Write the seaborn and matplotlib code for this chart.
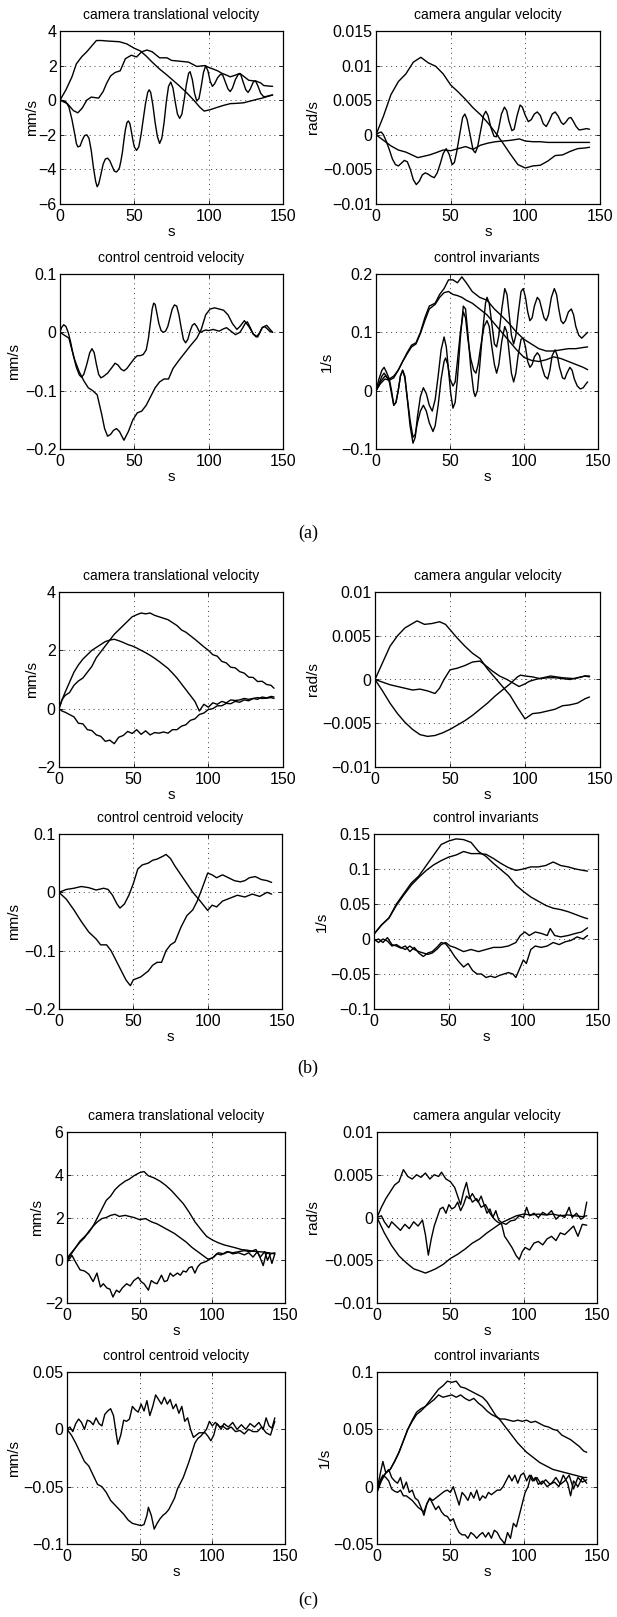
import numpy as np
import matplotlib
matplotlib.use("Agg")
import matplotlib.pyplot as plt
import seaborn as sns
from matplotlib.ticker import FuncFormatter

# ---------------------------------------------------------------- data
# Curves with dense oscillations are stored as (time, value) pairs,
# the smoother ones as separate time / value lists.

# (a) camera translational velocity [mm/s]
A1_TA = [0, 4, 8, 11, 14.5, 18, 21, 24.5, 28, 32, 36, 40, 45, 50, 54, 58, 62, 67, 72, 76,
         80, 85, 90, 94, 97, 101, 105.5, 110, 114.5, 119, 123.5, 128, 132.5, 136, 139, 143]
A1_VA = [0, 0.6, 1.34, 2.1, 2.5, 2.8, 3.1, 3.45, 3.45, 3.42, 3.4, 3.38, 3.25, 3.0, 2.85, 2.55, 2.2, 1.8, 1.45, 1.15,
         0.85, 0.45, 0.0, -0.4, -0.63, -0.55, -0.42, -0.3, -0.2, -0.18, -0.15, -0.05, 0.05, 0.12, 0.2, 0.3]
A1_TB = [0, 5, 9, 12, 15, 18, 21, 26, 29, 31.5, 34, 37, 40.5, 44, 48, 51.5, 55, 58.5, 62, 67,
         72, 75, 81, 86.5, 92, 97, 100, 103, 106, 109, 112, 114.5, 118, 121, 124, 127, 130, 132, 135, 137,
         140, 143]
A1_VB = [0, -0.2, -0.6, -0.73, -0.45, 0.0, 0.18, 0.12, 0.5, 1.0, 1.4, 1.6, 1.7, 2.4, 2.6, 2.5, 2.8, 2.9, 2.8, 2.45,
         2.45, 2.3, 2.25, 2.2, 1.95, 2.0, 1.9, 1.8, 1.7, 1.55, 1.45, 1.35, 1.45, 1.55, 1.35, 1.15, 1.12, 1.1, 1.0, 0.85,
         0.82, 0.8]
A1_C = [(0, 0), (2, -0.02), (4, -0.1), (6, -0.4), (8, -1.1), (10, -2.0), (11, -2.5), (12, -2.7), (13.5, -2.65),
        (15, -2.3), (16.5, -2.05), (18, -2.0), (19.5, -2.2), (21, -2.9), (22.5, -3.9), (24, -4.7), (25, -5.0),
        (26, -4.85), (27.5, -4.3), (29, -3.7), (30.5, -3.4), (32, -3.35), (33.5, -3.5), (35, -3.8), (36.5, -4.1),
        (38, -4.15), (39, -4.05), (40, -3.9), (41, -3.5), (42, -3.0), (43, -2.3), (44, -1.7), (45, -1.3),
        (46, -1.2), (47, -1.35), (48, -1.8), (49, -2.3), (50, -2.7), (51.5, -2.9), (53, -2.7), (54.5, -2.0),
        (56, -1.1), (57.5, -0.2), (59, 0.45), (60, 0.6), (61, 0.45), (62.5, -0.3), (64, -1.3), (65.5, -2.1),
        (67, -2.5), (68.5, -2.2), (70, -1.3), (71.5, -0.1), (73, 0.8), (74.5, 1.05), (76, 0.7), (77.5, -0.1),
        (79, -0.8), (80.5, -1.05), (82, -0.8), (83.5, 0.0), (85, 0.9), (86.5, 1.55), (87.5, 1.65), (89, 1.2),
        (90.5, 0.4), (92, -0.05), (93.5, 0.1), (95, 0.8), (96.5, 1.6), (98, 2.0), (99.5, 1.7), (101, 1.1),
        (102.5, 0.8), (104, 0.95), (106, 1.3), (108, 1.5), (109.5, 1.45), (111, 1.1), (113, 0.65), (114.5, 0.5),
        (116, 0.7), (118, 1.2), (120, 1.5), (121.5, 1.5), (123, 1.1), (125, 0.6), (126.5, 0.45), (128, 0.65),
        (130, 1.05), (131.5, 1.12), (133, 0.85), (135, 0.4), (137, 0.2), (139, 0.22), (141, 0.27), (143, 0.3)]

# (a) camera angular velocity [rad/s]
A2_TA = [0, 5, 10, 15, 20, 25, 30, 35, 40, 45, 50, 55, 60, 65, 70, 75, 80, 85, 90, 95,
         100, 105, 110, 115, 120, 125, 130, 135, 140, 143]
A2_VA = [0, 0.0027, 0.0058, 0.0077, 0.0088, 0.0105, 0.0112, 0.0104, 0.0099, 0.0088, 0.0072, 0.0062, 0.0051, 0.0039,
         0.0029, 0.0017, 0.0003, -0.0012, -0.0028, -0.0043, -0.0048, -0.0045, -0.0044, -0.0038, -0.003, -0.0029,
         -0.0024, -0.002, -0.0019, -0.0018]
A2_TB = [0, 5, 10, 15, 20, 25, 28, 32, 36, 40, 45, 50, 55, 60, 65, 70, 75, 80, 85, 90,
         96, 100, 105, 110, 115, 120, 130, 143]
A2_VB = [0, -0.0008, -0.0016, -0.0022, -0.0025, -0.003, -0.0033, -0.0031, -0.0029, -0.0026, -0.0022, -0.0023,
         -0.002, -0.0017, -0.0021, -0.0015, -0.0012, -0.001, -0.0009, -0.0008, -0.0006, -0.0009, -0.001, -0.001,
         -0.0011, -0.0011, -0.0011, -0.0011]
A2_C = [(0, 0), (2, 0.0003), (3.5, 0.0004), (5, 0.0), (7, -0.001), (9, -0.0022), (11, -0.0035), (13, -0.0043),
        (15, -0.0045), (17, -0.0041), (19, -0.0037), (21, -0.0039), (23, -0.005), (25, -0.0065), (27, -0.0072),
        (29, -0.0067), (31, -0.0058), (33, -0.0055), (35, -0.0057), (37, -0.006), (39, -0.0062), (41, -0.0055),
        (43, -0.0042), (45, -0.0027), (47, -0.002), (49, -0.0028), (51, -0.0043), (52.5, -0.004), (54, -0.0025),
        (56, 0.0), (58, 0.0025), (59.5, 0.003), (61, 0.0022), (63, 0.0), (65, -0.0022), (66.5, -0.0026),
        (68, -0.0018), (70, 0.0005), (72, 0.0028), (73.5, 0.0034), (75, 0.0028), (77, 0.001), (79, -0.0002),
        (80.5, -0.0003), (82, 0.0008), (84, 0.003), (86, 0.004), (87.5, 0.0035), (89, 0.002), (91, 0.0006),
        (92.5, 0.0008), (94.5, 0.0028), (96.5, 0.0043), (98, 0.004), (100, 0.0028), (102, 0.0019), (104, 0.0022),
        (106, 0.003), (108, 0.0033), (110, 0.0028), (112, 0.0016), (114, 0.0012), (116, 0.002), (118, 0.003),
        (120, 0.0033), (122, 0.0027), (124, 0.0018), (125.5, 0.0015), (127, 0.0018), (129, 0.0024),
        (130.5, 0.0025), (132, 0.002), (134, 0.0012), (136, 0.0007), (139, 0.0008), (141, 0.0009), (143, 0.0008)]

# (a) control centroid velocity [mm/s]
A3_A = [(0, 0), (1, 0.008), (2.5, 0.013), (4, 0.01), (5.5, 0.0), (7, -0.015), (9, -0.04), (11, -0.06),
        (13, -0.073), (14.5, -0.077), (16, -0.072), (18, -0.055), (20, -0.035), (21.5, -0.028), (23, -0.035),
        (24.5, -0.055), (26, -0.072), (27.5, -0.078), (29, -0.076), (32, -0.07), (35, -0.06), (37, -0.053),
        (39, -0.056), (41, -0.063), (43, -0.066), (45, -0.062), (47, -0.055), (50, -0.045), (52, -0.04),
        (54, -0.04), (56, -0.038), (58, -0.03), (59.5, -0.01), (61, 0.02), (62, 0.04), (63, 0.05), (64, 0.048),
        (65, 0.035), (66.5, 0.015), (68, 0.003), (69.5, 0.0), (71, 0.002), (72.5, 0.01), (74, 0.025),
        (75.5, 0.04), (77, 0.047), (78.5, 0.045), (80, 0.03), (81.5, 0.008), (83, -0.012), (84.5, -0.018),
        (86, -0.012), (87.5, 0.002), (89, 0.012), (90.5, 0.015), (92, 0.01), (93.5, 0.002), (95, 0.0),
        (96, 0.002), (98, 0.004), (100, 0.003), (103, 0.005), (107, 0.002), (110, 0.006), (112, 0.008),
        (115, 0.002), (118, -0.004), (121, 0.0), (123, 0.008), (124.5, 0.015), (126, 0.018), (128, 0.008),
        (130, -0.003), (132, -0.008), (134, -0.002), (136, 0.008), (137.5, 0.01), (139, 0.007), (141, 0.002),
        (143, 0.0)]
A3_TB = [0, 3, 6, 8, 10, 13, 16, 19, 22, 25, 28, 30, 32, 34, 36, 38, 40, 43, 46, 49,
         52, 55, 58, 61, 64, 67, 70, 73, 76, 80, 84, 88, 92, 95, 98, 101, 104, 107, 110, 113,
         116, 119, 121, 124, 127, 130, 133, 136, 139, 143]
A3_VB = [0, -0.005, -0.01, -0.03, -0.048, -0.068, -0.083, -0.095, -0.1, -0.107,
         -0.14, -0.165, -0.178, -0.175, -0.168, -0.165, -0.17, -0.185, -0.17, -0.15,
         -0.138, -0.135, -0.125, -0.11, -0.095, -0.085, -0.08, -0.08, -0.062, -0.048,
         -0.035, -0.022, -0.01, 0.005, 0.03, 0.04, 0.042, 0.04, 0.038, 0.03,
         0.015, 0.005, 0.01, 0.02, 0.01, -0.003, -0.008, 0.008, 0.012, 0.0]

# (a) control invariants [1/s]
A4_TPQ = [0, 3, 6, 9, 12, 15, 18, 21, 24, 27, 30, 33, 36, 40, 43, 46, 49, 52, 55, 58,
          61, 65, 70, 75, 80, 85, 90, 95, 100, 105, 110, 115, 120, 125, 130, 135, 140, 143]
A4_VP = [0, 0.015, 0.025, 0.02, 0.025, 0.035, 0.05, 0.065, 0.078, 0.082, 0.1, 0.125, 0.145, 0.15, 0.165, 0.175,
         0.19, 0.19, 0.185, 0.195, 0.185, 0.17, 0.16, 0.155, 0.14, 0.128, 0.115, 0.1, 0.088, 0.08, 0.072, 0.068,
         0.068, 0.07, 0.072, 0.072, 0.074, 0.075]
A4_VQ = [0, 0.012, 0.02, 0.018, 0.022, 0.035, 0.05, 0.063, 0.075, 0.08, 0.098, 0.12, 0.14, 0.148, 0.16, 0.168,
         0.17, 0.165, 0.163, 0.16, 0.155, 0.15, 0.14, 0.13, 0.115, 0.1, 0.085, 0.07, 0.057, 0.052, 0.05, 0.053,
         0.058, 0.055, 0.05, 0.045, 0.04, 0.036]
A4_R = [(0, 0), (2, 0.02), (4, 0.035), (5.5, 0.04), (7, 0.032), (9, 0.02), (10.5, 0.0), (12, -0.025),
        (13.5, -0.02), (15, 0.0), (16.5, 0.025), (18, 0.035), (19.5, 0.025), (21, -0.01), (23, -0.06),
        (25, -0.09), (26.5, -0.08), (28, -0.045), (30, -0.01), (32, 0.005), (34, -0.005), (36, -0.025),
        (38, -0.035), (40, -0.015), (42, 0.025), (44, 0.07), (46, 0.092), (47.5, 0.075), (49, 0.035),
        (50.5, -0.005), (52, -0.03), (53.5, -0.02), (55, 0.02), (57, 0.09), (59, 0.145), (60.5, 0.14),
        (62, 0.1), (64, 0.04), (66, -0.002), (67, -0.01), (68.5, 0.0), (70, 0.04), (72, 0.1), (74, 0.15),
        (75, 0.16), (76.5, 0.15), (78, 0.12), (80, 0.08), (81.5, 0.075), (83, 0.095), (85, 0.14), (87, 0.175),
        (88.5, 0.165), (90, 0.13), (91.5, 0.095), (93, 0.08), (94.5, 0.095), (96, 0.13), (98, 0.17),
        (99.5, 0.175), (101, 0.16), (102.5, 0.135), (104, 0.12), (105.5, 0.125), (107, 0.145), (109, 0.16),
        (110.5, 0.155), (112, 0.14), (113.5, 0.125), (115, 0.12), (116.5, 0.13), (118.5, 0.16), (120.5, 0.175),
        (122, 0.165), (123.5, 0.14), (125, 0.12), (126.5, 0.115), (128, 0.12), (130, 0.135), (132, 0.14),
        (133.5, 0.13), (135, 0.11), (137, 0.095), (139, 0.09), (141, 0.095), (143, 0.1)]
A4_S = [(0, 0), (2, 0.012), (4, 0.025), (5.5, 0.03), (7, 0.025), (9, 0.015), (10.5, -0.005), (12, -0.025),
        (13.5, -0.02), (15, 0.0), (16.5, 0.025), (18, 0.035), (19.5, 0.022), (21, -0.01), (23, -0.05),
        (25, -0.08), (26.5, -0.075), (28, -0.055), (30, -0.035), (32, -0.025), (34, -0.035), (36, -0.055),
        (38.5, -0.07), (40, -0.06), (42, -0.025), (44, 0.02), (46, 0.05), (47, 0.056), (48.5, 0.045),
        (50, 0.02), (52, 0.008), (53.5, 0.015), (55, 0.05), (57, 0.1), (59, 0.135), (60.5, 0.125), (62, 0.09),
        (64, 0.055), (66, 0.035), (67.5, 0.03), (69, 0.045), (71, 0.08), (73, 0.11), (75, 0.12), (76.5, 0.11),
        (78, 0.08), (80, 0.045), (81.5, 0.03), (83, 0.045), (85, 0.085), (87, 0.11), (88.5, 0.1), (90, 0.065),
        (91.5, 0.03), (93, 0.015), (94.5, 0.03), (96, 0.06), (98, 0.088), (99.5, 0.09), (101, 0.075),
        (102.5, 0.05), (104, 0.04), (105.5, 0.045), (107, 0.058), (109, 0.065), (110.5, 0.06), (112, 0.042),
        (114, 0.025), (116, 0.02), (117.5, 0.035), (119, 0.06), (121, 0.07), (122.5, 0.06), (124, 0.04),
        (126, 0.022), (127.5, 0.02), (129, 0.03), (131, 0.04), (132.5, 0.035), (134, 0.02), (136, 0.008),
        (138, 0.003), (140, 0.005), (142, 0.012), (143, 0.015)]

# (b) camera translational velocity [mm/s]
B1_T = [0, 2, 4, 7, 10, 13, 16, 19, 22, 25, 28, 31, 34, 37, 40, 43, 46, 49, 52, 55,
        58, 61, 64, 67, 70, 73, 76, 79, 82, 85, 88, 91, 94, 97, 100, 103, 106, 109, 112, 115,
        118, 121, 124, 127, 130, 133, 136, 139, 142, 144]
B1_VA = [0, 0.3, 0.45, 0.55, 0.8, 0.95, 1.05, 1.25, 1.45, 1.75, 1.95, 2.15, 2.35, 2.55, 2.7, 2.85, 3.0, 3.15, 3.22,
         3.28, 3.25, 3.28, 3.2, 3.15, 3.1, 3.05, 2.95, 2.85, 2.7, 2.62, 2.5, 2.38, 2.25, 2.12, 2.0, 1.85, 1.8,
         1.62, 1.57, 1.42, 1.4, 1.27, 1.22, 1.08, 1.07, 0.93, 0.94, 0.83, 0.8, 0.7]
B1_VB = [0, 0.3, 0.55, 0.9, 1.25, 1.5, 1.7, 1.85, 2.0, 2.1, 2.2, 2.3, 2.35, 2.38, 2.33, 2.27, 2.2, 2.15, 2.08, 2.0,
         1.92, 1.83, 1.73, 1.62, 1.5, 1.38, 1.22, 1.05, 0.85, 0.65, 0.45, 0.25, -0.08, 0.15, 0.05, 0.2, 0.15, 0.25,
         0.2, 0.3, 0.28, 0.3, 0.35, 0.32, 0.35, 0.38, 0.35, 0.36, 0.38, 0.35]
B1_VC = [0, -0.08, -0.12, -0.2, -0.28, -0.5, -0.52, -0.72, -0.75, -0.9, -0.95, -1.12, -1.08, -1.2, -0.98, -0.92,
         -0.78, -0.85, -0.72, -0.88, -0.76, -0.9, -0.82, -0.84, -0.8, -0.84, -0.72, -0.72, -0.6, -0.55, -0.4,
         -0.35, -0.2, -0.15, -0.03, 0.0, 0.1, 0.1, 0.18, 0.17, 0.25, 0.22, 0.3, 0.27, 0.35, 0.32, 0.4, 0.37,
         0.42, 0.4]

# (b) camera angular velocity [rad/s]
B2_TA = [0, 5, 10, 15, 20, 25, 28, 33, 38, 43, 47, 50, 55, 60, 65, 70, 75, 80, 85, 90,
         95, 100, 105, 110, 115, 120, 125, 130, 135, 140, 143]
B2_VA = [0, 0.0019, 0.0038, 0.005, 0.0059, 0.0064, 0.0067, 0.0063, 0.0064, 0.0066, 0.0063, 0.0057, 0.0047, 0.0038,
         0.003, 0.0024, 0.0012, 0.0002, -0.0008, -0.0018, -0.0032, -0.0045, -0.0039, -0.0038, -0.0036, -0.0034,
         -0.003, -0.0029, -0.0027, -0.0022, -0.002]
B2_TB = [0, 5, 10, 15, 20, 25, 30, 35, 40, 43, 46, 50, 55, 60, 65, 70, 73, 78, 83, 88,
         93, 96, 100, 103, 107, 112, 117, 125, 133, 140, 143]
B2_VB = [0, -0.0003, -0.0006, -0.0008, -0.001, -0.0012, -0.0011, -0.0013, -0.0016, -0.001, 0.0, 0.0011, 0.0013,
         0.0016, 0.002, 0.0021, 0.0017, 0.001, 0.0004, 0.0, -0.0005, -0.0008, -0.0005, -0.0002, 0.0, 0.0002,
         0.0004, 0.0002, 0.0001, 0.0004, 0.0003]
B2_TC = [0, 5, 10, 15, 20, 25, 30, 35, 40, 45, 50, 55, 60, 65, 70, 75, 80, 85, 90, 95,
         97, 100, 105, 110, 115, 120, 125, 130, 135, 140, 143]
B2_VC = [0, -0.0013, -0.0027, -0.0039, -0.0049, -0.0057, -0.0063, -0.0065, -0.0064, -0.0061, -0.0057, -0.0052,
         -0.0047, -0.0041, -0.0034, -0.0027, -0.0019, -0.0012, -0.0005, 0.0003, 0.0005, 0.0004, 0.0003, 0.0001,
         0.0002, 0.0002, 0.0001, 0.0, 0.0002, 0.0004, 0.0004]

# (b) control centroid velocity [mm/s]
B3_TA = [0, 5, 10, 15, 20, 25, 30, 33, 36, 39, 41, 44, 47, 50, 53, 56, 60, 63, 66, 70,
         72, 75, 78, 82, 86, 90, 95, 100, 103, 106, 110, 115, 120, 125, 130, 135, 140, 143]
B3_VA = [0, 0.005, 0.007, 0.01, 0.008, 0.004, 0.007, 0.005, -0.005, -0.02, -0.027, -0.02, -0.005, 0.015, 0.04,
         0.047, 0.05, 0.055, 0.057, 0.062, 0.065, 0.058, 0.045, 0.03, 0.015, 0.0, -0.015, -0.031, -0.022, -0.025,
         -0.015, -0.01, -0.005, -0.008, -0.003, -0.007, 0.0, -0.003]
B3_TB = [0, 5, 10, 15, 20, 25, 28, 32, 35, 38, 42, 45, 48, 50, 55, 60, 63, 66, 69, 72,
         75, 78, 82, 86, 90, 93, 96, 100, 103, 106, 110, 114, 118, 122, 125, 128, 132, 136, 140, 143]
B3_VB = [0, -0.012, -0.03, -0.05, -0.068, -0.08, -0.09, -0.09, -0.1, -0.115, -0.135, -0.15, -0.16, -0.15, -0.145,
         -0.135, -0.125, -0.12, -0.12, -0.1, -0.09, -0.085, -0.06, -0.04, -0.03, -0.015, 0.005, 0.033, 0.03,
         0.025, 0.03, 0.025, 0.02, 0.018, 0.02, 0.025, 0.027, 0.022, 0.02, 0.017]

# (b) control invariants [1/s]
B4_TPQ = [0, 5, 10, 15, 20, 25, 30, 35, 40, 45, 50, 55, 60, 65, 70, 75, 80, 85, 90, 95,
          100, 105, 110, 115, 120, 125, 130, 135, 140, 143]
B4_VP = [0.007, 0.02, 0.03, 0.05, 0.065, 0.08, 0.09, 0.105, 0.12, 0.135, 0.14, 0.143, 0.142, 0.138, 0.125, 0.118,
         0.108, 0.099, 0.09, 0.077, 0.068, 0.06, 0.054, 0.048, 0.044, 0.042, 0.039, 0.035, 0.031, 0.029]
B4_VQ = [0.007, 0.02, 0.03, 0.048, 0.063, 0.077, 0.088, 0.098, 0.106, 0.112, 0.117, 0.12, 0.125, 0.122, 0.122,
         0.121, 0.115, 0.108, 0.102, 0.098, 0.1, 0.103, 0.103, 0.105, 0.11, 0.105, 0.103, 0.1, 0.098, 0.097]
B4_TR = [0, 3, 6, 9, 12, 15, 18, 21, 24, 27, 30, 33, 36, 39, 42, 45, 48, 51, 54, 57,
         60, 65, 70, 75, 80, 85, 90, 95, 98, 101, 104, 108, 112, 116, 118, 121, 125, 130, 135, 139, 143]
B4_VR = [0.0, -0.005, 0.0, -0.003, -0.01, -0.008, -0.012, -0.015, -0.01, -0.015,
         -0.018, -0.02, -0.022, -0.02, -0.015, -0.008, -0.005, -0.01, -0.012, -0.015,
         -0.018, -0.015, -0.018, -0.015, -0.012, -0.012, -0.01, -0.005, 0.005, 0.01,
         0.005, 0.01, 0.008, 0.005, 0.015, 0.005, 0.003, 0.005, 0.008, 0.01, 0.016]
B4_TS = [0, 3, 6, 9, 12, 15, 18, 21, 24, 27, 30, 33, 36, 39, 42, 45, 48, 51, 54, 57,
         60, 63, 66, 69, 72, 75, 78, 81, 84, 87, 90, 93, 95, 97, 100, 102, 105, 108, 112, 116,
         120, 124, 128, 132, 136, 140, 143]
B4_VS = [-0.003, 0.0, -0.005, 0.002, -0.008, -0.01, -0.013, -0.01, -0.018, -0.012,
         -0.02, -0.025, -0.02, -0.018, -0.012, -0.005, -0.007, -0.015, -0.025, -0.033,
         -0.04, -0.035, -0.045, -0.05, -0.05, -0.055, -0.053, -0.055, -0.052, -0.05,
         -0.048, -0.05, -0.055, -0.045, -0.03, -0.035, -0.015, -0.01, -0.012, -0.01,
         -0.005, -0.008, -0.004, -0.002, 0.003, 0.0, 0.005]

# (c) camera translational velocity [mm/s]
C1_TA = [0, 3, 6, 9, 12, 15, 18, 21, 24, 27, 30, 33, 36, 40, 43, 46, 50, 53, 56, 60,
         64, 68, 72, 76, 80, 84, 88, 92, 96, 100, 104, 108, 112, 116, 120, 124, 128, 132, 136, 140, 143]
C1_VA = [0.0, 0.3, 0.6, 0.9, 1.1, 1.3, 1.6, 2.0, 2.4, 2.8, 3.0, 3.3, 3.5, 3.7, 3.8, 3.95, 4.1, 4.15, 3.95, 3.85,
         3.7, 3.5, 3.25, 2.95, 2.65, 2.25, 1.8, 1.45, 1.12, 0.95, 0.82, 0.72, 0.65, 0.58, 0.5, 0.47, 0.42, 0.4,
         0.38, 0.33, 0.3]
C1_TB = [0, 3, 6, 9, 12, 15, 18, 21, 24, 27, 30, 33, 36, 40, 43, 46, 50, 54, 58, 62,
         66, 70, 74, 78, 82, 86, 90, 94, 97, 100, 103, 106, 110, 114, 118, 122, 126, 130, 133, 136,
         138, 140, 143]
C1_VB = [0.1, 0.35, 0.6, 0.85, 1.05, 1.35, 1.6, 1.8, 1.95, 2.0, 2.1, 2.15, 2.05, 2.1, 2.05, 2.0, 1.9, 1.95, 1.8,
         1.7, 1.55, 1.4, 1.25, 1.05, 0.85, 0.6, 0.4, 0.2, 0.05, 0.1, 0.3, 0.25, 0.4, 0.35, 0.4, 0.45, 0.4, 0.5,
         0.15, 0.4, 0.0, 0.3, 0.35]
C1_TC = [0, 3.4, 6, 9, 12, 15, 18, 20.6, 23, 25, 27.5, 29.5, 31.6, 34, 36, 38, 41, 43.5, 46, 49,
         51, 53, 56, 58, 60, 62, 65, 67, 69, 71, 73, 76, 78, 80, 82, 84, 86, 88, 90, 92,
         94, 96, 98, 101, 104, 108, 111, 114, 118, 122, 125, 128, 131, 133, 135, 137, 139, 141, 143]
C1_VC = [-0.1, 0.23, -0.1, -0.45, -0.5, -0.65, -1.0, -0.6, -1.25, -1.1, -1.3, -1.35, -1.72, -1.4, -1.5, -1.3, -1.1,
         -1.2, -0.95, -0.8, -1.0, -1.1, -1.4, -0.95, -1.05, -1.1, -0.7, -1.0, -0.95, -0.6, -0.75, -0.6, -0.7,
         -0.5, -0.55, -0.35, -0.3, -0.6, -0.3, -0.15, -0.1, -0.05, 0.05, 0.15, 0.35, 0.3, 0.4, 0.3, 0.35, 0.25,
         0.35, 0.15, 0.4, 0.1, -0.25, 0.3, 0.35, -0.15, 0.3]

# (c) camera angular velocity [rad/s]
C2_TA = [0, 3, 6, 9, 12, 15, 18, 21, 24, 27, 30, 33, 36, 39, 42, 44, 47, 50, 53, 55,
         57, 59, 61, 63, 65, 68, 71, 74, 77, 80, 82, 85, 87, 89, 92, 95, 97, 99, 101, 104,
         107, 110, 113, 116, 119, 122, 125, 128, 131, 134, 137, 140, 143]
C2_VA = [0, 0.0012, 0.0022, 0.003, 0.0038, 0.0042, 0.0056, 0.0048, 0.0045, 0.005,
         0.0047, 0.0052, 0.0045, 0.005, 0.0048, 0.0053, 0.0045, 0.0042, 0.0035, 0.0025,
         0.0015, 0.003, 0.0041, 0.0025, 0.0018, 0.0022, 0.0012, 0.0015, 0.0005, -0.0002,
         -0.0005, -0.0008, -0.0022, -0.0027, -0.0035, -0.0045, -0.0049, -0.004, -0.0035, -0.0038,
         -0.003, -0.0028, -0.0032, -0.0025, -0.0022, -0.0027, -0.0018, -0.002, -0.0015, -0.001,
         -0.0022, -0.0008, -0.0009]
C2_TB = [0, 3, 5, 8, 10, 13, 16, 19, 22, 25, 28, 31, 33, 35, 37, 39, 41, 43, 45, 47,
         49, 51, 53, 55, 57, 59, 61, 63, 65, 67, 69, 71, 73, 75, 77, 79, 81, 83, 85, 88,
         91, 94, 97, 100, 102, 104, 107, 110, 113, 116, 119, 122, 125, 128, 131, 133, 136, 139, 141, 143]
C2_VB = [0, 0.0002, -0.0005, -0.0012, -0.0005, -0.001, -0.0015, -0.0008, -0.0013, -0.0005,
         -0.001, -0.0003, -0.002, -0.0044, -0.0025, -0.001, 0.0, 0.001, 0.0012, 0.0005,
         0.0015, 0.001, 0.0012, 0.0018, 0.0008, 0.0015, 0.0025, 0.0022, 0.0028, 0.0022,
         0.0018, 0.0025, 0.0015, 0.0005, 0.001, 0.0, 0.0008, -0.0003, -0.0006, -0.0008,
         -0.0004, -0.0003, 0.0002, 0.0, 0.0012, 0.0002, 0.0005, 0.0, 0.0006, 0.0003,
         0.0008, -0.0002, 0.0003, 0.0, 0.0012, 0.0, 0.0005, -0.0002, 0.0, 0.0018]
C2_TC = [0, 5, 10, 15, 20, 25, 30, 33, 36, 40, 45, 50, 55, 60, 65, 70, 75, 80, 85, 90,
         95, 100, 105, 110, 115, 120, 125, 130, 135, 140, 143]
C2_VC = [0, -0.0018, -0.0033, -0.0045, -0.0053, -0.006, -0.0063, -0.0065, -0.0063, -0.006, -0.0055, -0.0048,
         -0.0043, -0.0037, -0.003, -0.0025, -0.0018, -0.0012, -0.0006, -0.0002, 0.0002, 0.0004, 0.0003, 0.0004,
         0.0003, 0.0004, 0.0002, 0.0003, 0.0002, 0.0001, 0.0002]

# (c) control centroid velocity [mm/s]
C3_TA = [0, 2, 4, 6, 8, 10, 12, 14, 16, 18, 20, 22, 24, 26, 28, 30, 32, 34, 35, 37,
         39, 41, 43, 45, 47, 49, 51, 53, 55, 57, 59, 61, 63, 65, 67, 69, 71, 73, 75, 77,
         79, 81, 83, 85, 87, 89, 91, 93, 95, 97, 99, 101, 103, 105, 107, 110, 113, 116, 119, 122,
         125, 128, 131, 134, 137, 140, 143]
C3_VA = [0, 0.002, -0.002, 0.005, 0.009, 0.006, 0.0, 0.008, 0.007, 0.004,
         0.01, 0.005, 0.003, 0.013, 0.016, 0.018, 0.012, -0.005, -0.013, -0.005,
         0.008, 0.007, 0.009, 0.02, 0.017, 0.015, 0.022, 0.016, 0.025, 0.012,
         0.02, 0.03, 0.026, 0.022, 0.028, 0.022, 0.026, 0.018, 0.022, 0.014,
         0.02, 0.007, 0.01, 0.0, -0.007, -0.005, -0.003, -0.003, -0.003, -0.006,
         -0.01, -0.005, 0.005, 0.002, 0.003, 0.0, 0.002, -0.002, -0.001, -0.004,
         0.0, -0.002, -0.002, 0.002, -0.003, -0.005, 0.007]
C3_TB = [0, 3, 6, 9, 12, 15, 18, 21, 24, 27, 30, 33, 36, 39, 42, 45, 48, 51, 53, 55,
         56, 58, 60, 62, 64, 66, 68, 70, 72, 74, 76, 78, 80, 82, 84, 86, 88, 90, 92, 94,
         96, 98, 100, 102, 104, 106, 108, 111, 114, 117, 120, 123, 126, 129, 132, 135, 137, 139, 141, 143]
C3_VB = [0.0, -0.005, -0.012, -0.02, -0.028, -0.032, -0.04, -0.048, -0.05, -0.055,
         -0.062, -0.066, -0.07, -0.074, -0.079, -0.082, -0.083, -0.084, -0.083, -0.075,
         -0.068, -0.075, -0.087, -0.082, -0.078, -0.075, -0.073, -0.07, -0.065, -0.06,
         -0.052, -0.047, -0.042, -0.035, -0.028, -0.02, -0.012, -0.008, -0.006, -0.003,
         0.0, 0.007, 0.003, 0.006, 0.004, 0.0, 0.005, 0.002, 0.006, 0.0,
         0.004, 0.0, 0.005, 0.002, 0.006, 0.0, 0.01, 0.003, 0.001, 0.01]

# (c) control invariants [1/s]
C4_TPQ = [0, 3, 6, 9, 12, 15, 18, 21, 24, 27, 30, 33, 36, 39, 42, 45, 48, 51, 54, 57,
          60, 63, 66, 69, 72, 75, 78, 81, 84, 87, 90, 93, 96, 99, 102, 105, 108, 111, 114, 117,
          120, 123, 126, 129, 132, 135, 138, 141, 143]
C4_VP = [-0.005, 0.005, 0.012, 0.015, 0.022, 0.03, 0.04, 0.05, 0.058, 0.065,
         0.068, 0.07, 0.075, 0.08, 0.085, 0.088, 0.092, 0.091, 0.092, 0.087,
         0.086, 0.084, 0.082, 0.08, 0.078, 0.074, 0.068, 0.062, 0.058, 0.053,
         0.048, 0.043, 0.038, 0.034, 0.03, 0.027, 0.024, 0.021, 0.019, 0.017,
         0.015, 0.014, 0.013, 0.012, 0.011, 0.01, 0.009, 0.008, 0.008]
C4_VQ = [-0.003, 0.007, 0.012, 0.015, 0.022, 0.03, 0.04, 0.05, 0.057, 0.063,
         0.066, 0.07, 0.073, 0.076, 0.08, 0.078, 0.079, 0.08, 0.078, 0.08,
         0.077, 0.075, 0.077, 0.073, 0.07, 0.066, 0.063, 0.061, 0.059, 0.059,
         0.058, 0.057, 0.058, 0.057, 0.058, 0.056, 0.057, 0.055, 0.053, 0.052,
         0.05, 0.049, 0.045, 0.043, 0.041, 0.038, 0.035, 0.031, 0.03]
C4_TR = [0, 2, 4, 6, 8, 10, 12, 14, 16, 18, 20, 22, 24, 26, 28, 30, 32, 34, 36, 38,
         40, 42, 44, 46, 48, 50, 52, 54, 56, 58, 60, 62, 64, 66, 68, 70, 72, 74, 76, 78,
         80, 82, 84, 86, 88, 90, 92, 94, 96, 98, 100, 102, 104, 106, 108, 110,
         113, 116, 119, 122, 125, 128, 131, 134, 137, 140, 143]
C4_VR = [-0.003, 0.01, 0.022, 0.012, 0.015, 0.008, 0.005, 0.003, 0.008, -0.002,
         0.004, -0.005, -0.003, -0.01, -0.012, -0.018, -0.025, -0.015, -0.01, -0.012,
         -0.01, -0.008, -0.006, -0.004, -0.003, -0.005, 0.0, -0.008, -0.016, -0.005,
         -0.008, -0.012, -0.005, -0.01, -0.003, -0.012, -0.008, -0.01, -0.005, -0.007,
         -0.005, -0.003, -0.003, 0.0, 0.005, 0.01, 0.005, 0.01, 0.003, 0.01,
         0.012, 0.005, 0.01, 0.005, 0.008, 0.002,
         0.005, 0.0, 0.003, 0.008, 0.002, 0.005, 0.01, -0.002, 0.008, 0.004, 0.006]
C4_TS = [0, 2, 4, 6, 8, 10, 12, 14, 16, 18, 20, 22, 24, 26, 28, 30, 32, 34, 36, 38,
         40, 42, 44, 46, 48, 50, 52, 54, 56, 58, 60, 62, 64, 66, 68, 70, 72, 74, 76, 78,
         80, 82, 84, 86, 87, 89, 91, 93, 95, 97, 99, 101, 103, 105, 107, 109,
         112, 115, 118, 121, 124, 127, 130, 132, 134, 137, 140, 143]
C4_VS = [-0.005, 0.005, 0.01, 0.008, 0.005, -0.002, -0.004, -0.005, -0.003, -0.008,
         -0.008, -0.01, -0.012, -0.015, -0.018, -0.02, -0.022, -0.015, -0.01, -0.015,
         -0.02, -0.017, -0.022, -0.025, -0.026, -0.03, -0.028, -0.035, -0.04, -0.042,
         -0.042, -0.045, -0.04, -0.042, -0.045, -0.042, -0.04, -0.044, -0.04, -0.045,
         -0.038, -0.04, -0.045, -0.048, -0.05, -0.04, -0.045, -0.032, -0.035, -0.025,
         -0.015, -0.005, 0.0, 0.01, 0.005, 0.008,
         0.002, 0.006, 0.002, 0.004, 0.0, 0.01, 0.003, -0.008, 0.005, 0.0, 0.008, 0.003]

TITLES = ["camera translational velocity", "camera angular velocity",
          "control centroid velocity", "control invariants"]
YLABELS = ["mm/s", "rad/s", "mm/s", "1/s"]
XTICKS = [0, 50, 100, 150]
GROUP_LABELS = ["(a)", "(b)", "(c)"]

YTICKS = {
    "a1": [-6, -4, -2, 0, 2, 4],
    "a2": [-0.01, -0.005, 0, 0.005, 0.01, 0.015],
    "a3": [-0.2, -0.1, 0, 0.1],
    "a4": [-0.1, 0, 0.1, 0.2],
    "b1": [-2, 0, 2, 4],
    "b2": [-0.01, -0.005, 0, 0.005, 0.01],
    "b3": [-0.2, -0.1, 0, 0.1],
    "b4": [-0.1, -0.05, 0, 0.05, 0.1, 0.15],
    "c1": [-2, 0, 2, 4, 6],
    "c2": [-0.01, -0.005, 0, 0.005, 0.01],
    "c3": [-0.1, -0.05, 0, 0.05],
    "c4": [-0.05, 0, 0.05, 0.1],
}


def pairs(p):
    t, v = zip(*p)
    return list(t), list(v)


CURVES = {
    "a1": [(A1_TA, A1_VA), (A1_TB, A1_VB), pairs(A1_C)],
    "a2": [(A2_TA, A2_VA), (A2_TB, A2_VB), pairs(A2_C)],
    "a3": [pairs(A3_A), (A3_TB, A3_VB)],
    "a4": [(A4_TPQ, A4_VP), (A4_TPQ, A4_VQ), pairs(A4_R), pairs(A4_S)],
    "b1": [(B1_T, B1_VA), (B1_T, B1_VB), (B1_T, B1_VC)],
    "b2": [(B2_TA, B2_VA), (B2_TB, B2_VB), (B2_TC, B2_VC)],
    "b3": [(B3_TA, B3_VA), (B3_TB, B3_VB)],
    "b4": [(B4_TPQ, B4_VP), (B4_TPQ, B4_VQ), (B4_TR, B4_VR), (B4_TS, B4_VS)],
    "c1": [(C1_TA, C1_VA), (C1_TB, C1_VB), (C1_TC, C1_VC)],
    "c2": [(C2_TA, C2_VA), (C2_TB, C2_VB), (C2_TC, C2_VC)],
    "c3": [(C3_TA, C3_VA), (C3_TB, C3_VB)],
    "c4": [(C4_TPQ, C4_VP), (C4_TPQ, C4_VQ), (C4_TR, C4_VR), (C4_TS, C4_VS)],
}

# ---------------------------------------------------------------- layout (pixels)
W, H = 617, 1617
# left, top, right, bottom of every panel; ylabel centre x
BOXES = {
    "a1": (60, 31, 283, 204, 32), "a2": (376, 31, 600, 204, 313),
    "a3": (60, 274, 283, 449, 14), "a4": (376, 274, 598, 449, 327),
    "b1": (59, 592, 283, 767, 32), "b2": (375, 592, 600, 767, 313),
    "b3": (59, 834, 282, 1009, 14), "b4": (374, 834, 598, 1009, 322),
    "c1": (67, 1132, 285, 1303, 37), "c2": (377, 1132, 597, 1303, 313),
    "c3": (67, 1372, 285, 1544, 14), "c4": (377, 1372, 597, 1544, 325),
}
GROUP_Y = [533, 1068, 1600]

sns.set_theme(style="white")
plt.rcParams["font.family"] = ["Liberation Sans", "DejaVu Sans"]
plt.rcParams["axes.unicode_minus"] = True

fig = plt.figure(figsize=(W / 100, H / 100), dpi=100)
fig.patch.set_facecolor("white")


def fmt(v, _pos):
    v = round(v, 6)
    if v == 0:
        return "0"
    return ("%g" % v).replace("-", "\u2212")


for key, (l, t, r, b, ylx) in BOXES.items():
    ax = fig.add_axes([l / W, 1 - b / H, (r - l) / W, (b - t) / H])
    idx = int(key[1]) - 1
    for tt, vv in CURVES[key]:
        sns.lineplot(x=tt, y=vv, ax=ax, color="black", linewidth=1.0,
                     estimator=None, sort=False)
    yt = YTICKS[key]
    ax.set_xlim(0, 150)
    ax.set_ylim(yt[0], yt[-1])
    ax.set_xticks(XTICKS)
    ax.set_yticks(yt)
    ax.yaxis.set_major_formatter(FuncFormatter(fmt))
    ax.xaxis.set_major_formatter(FuncFormatter(fmt))
    ax.grid(True, linestyle=(0, (1, 4)), color="0.25", linewidth=0.7)
    ax.set_facecolor("white")
    for sp in ax.spines.values():
        sp.set_visible(True)
        sp.set_color("black")
        sp.set_linewidth(0.9)
    ax.tick_params(direction="in", length=3, width=0.6, labelsize=11.5,
                   top=True, right=True, bottom=True, left=True, colors="black")
    ax.tick_params(axis="x", pad=3.5)
    ax.tick_params(axis="y", pad=2.5)
    ax.set_title(TITLES[idx], fontsize=10, pad=8.3, color="black")
    ax.set_xlabel("s", fontsize=11, color="black")
    ax.set_ylabel(YLABELS[idx], fontsize=11, color="black")
    hpx, wpx = b - t, r - l
    ax.xaxis.set_label_coords(0.5, -21 / hpx)
    ax.yaxis.set_label_coords((ylx + 7 - l) / wpx, 0.5)

for lab, gy in zip(GROUP_LABELS, GROUP_Y):
    fig.text(308 / W, 1 - gy / H, lab, ha="center", va="center",
             fontsize=13, family=["Liberation Serif", "DejaVu Serif"], color="black")

fig.savefig("out.png", dpi=100, facecolor="white")
